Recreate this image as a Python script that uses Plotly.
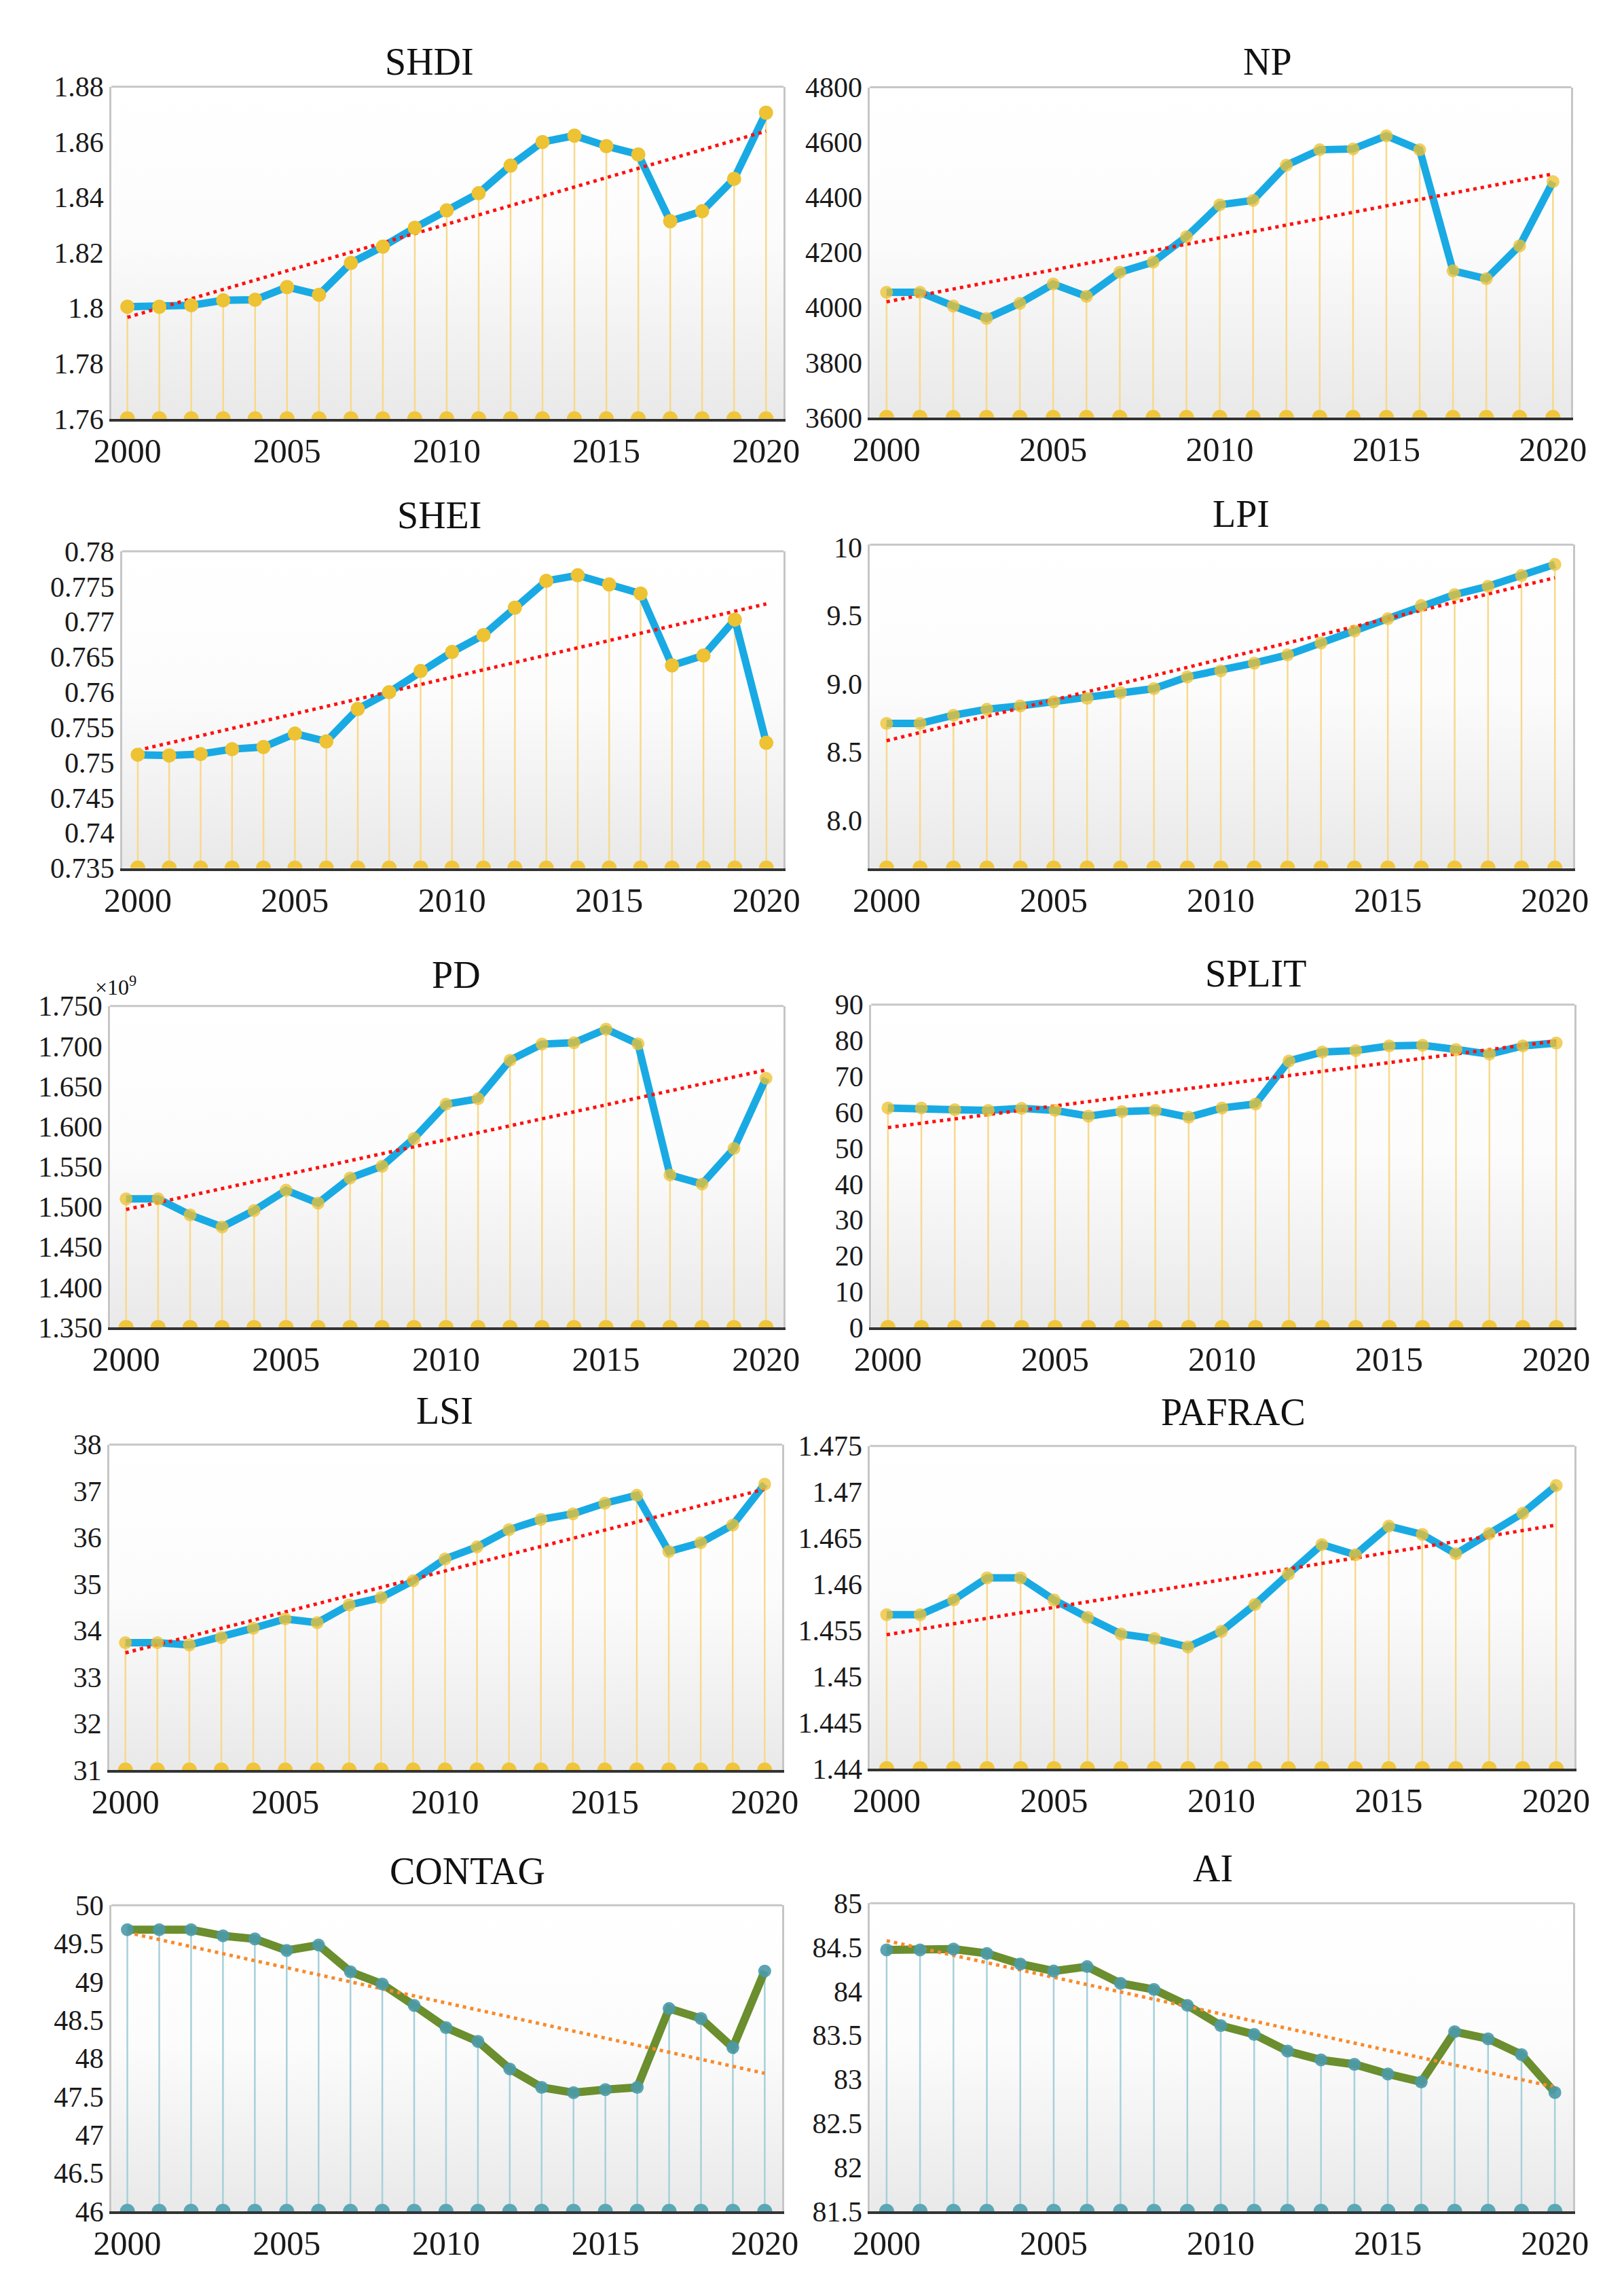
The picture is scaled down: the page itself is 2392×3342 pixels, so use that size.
import numpy as np
import plotly.graph_objects as go

# ---------------- data ----------------
years = list(range(2000, 2021))

shdi = [1.8005, 1.8005, 1.8010, 1.8028, 1.8030, 1.8076, 1.8048, 1.8163, 1.8222, 1.8290, 1.8353,
        1.8415, 1.8515, 1.8600, 1.8623, 1.8585, 1.8555, 1.8314, 1.8350, 1.8467, 1.8706]
np_vals = [4055, 4055, 4005, 3960, 4015, 4085, 4040, 4128, 4165, 4257, 4373,
           4389, 4517, 4573, 4576, 4624, 4573, 4133, 4104, 4224, 4457]
shei = [0.7511, 0.7510, 0.7512, 0.7519, 0.7522, 0.7541, 0.7530, 0.7576, 0.7600, 0.7630, 0.7657,
        0.7681, 0.7720, 0.7758, 0.7766, 0.7753, 0.7740, 0.7638, 0.7652, 0.7703, 0.7528]
lpi = [8.710, 8.710, 8.770, 8.814, 8.838, 8.868, 8.894, 8.935, 8.965, 9.051, 9.095,
       9.152, 9.212, 9.300, 9.387, 9.477, 9.574, 9.654, 9.715, 9.795, 9.875]
pd_vals = [1.510, 1.510, 1.490, 1.475, 1.4955, 1.5207, 1.5047, 1.536, 1.5506, 1.5853, 1.6278,
           1.6346, 1.6825, 1.7026, 1.7043, 1.7213, 1.7029, 1.5397, 1.5285, 1.5727, 1.6601]
split = [61.2, 61.2, 60.7, 60.5, 61.1, 60.5, 58.9, 60.2, 60.5, 58.6, 61.2,
         62.3, 74.3, 76.8, 77.2, 78.5, 78.7, 77.5, 76.2, 78.5, 79.3]
lsi = [33.74, 33.74, 33.69, 33.85, 34.05, 34.25, 34.17, 34.55, 34.71, 35.07, 35.54,
       35.80, 36.17, 36.39, 36.51, 36.74, 36.91, 35.70, 35.89, 36.27, 37.15]
pafrac = [1.4567, 1.4567, 1.4583, 1.4607, 1.4607, 1.4583, 1.4564, 1.4546, 1.4541, 1.4532, 1.4549,
          1.4578, 1.4611, 1.4643, 1.4632, 1.4663, 1.4654, 1.4633, 1.4655, 1.4677, 1.4707]
contag = [49.68, 49.68, 49.68, 49.60, 49.56, 49.41, 49.48, 49.13, 48.97, 48.69, 48.40,
          48.22, 47.86, 47.62, 47.55, 47.59, 47.62, 48.65, 48.52, 48.14, 49.14]
ai = [84.47, 84.47, 84.48, 84.43, 84.31, 84.23, 84.28, 84.09, 84.02, 83.84, 83.61,
      83.51, 83.32, 83.22, 83.17, 83.06, 82.97, 83.54, 83.46, 83.28, 82.85]

names = ["SHDI", "NP", "SHEI", "LPI", "PD", "SPLIT", "LSI", "PAFRAC", "CONTAG", "AI"]
series = [shdi, np_vals, shei, lpi, pd_vals, split, lsi, pafrac, contag, ai]
y_ranges = [(1.76, 1.88), (3600, 4800), (0.735, 0.78), (7.65, 10.02), (1.35, 1.75),
            (0, 90), (31, 38), (1.44, 1.475), (46, 50), (81.5, 85)]
y_steps = [0.02, 200, 0.005, 0.5, 0.05, 10, 1, 0.005, 0.5, 0.5]
x_ticks = [2000, 2005, 2010, 2015, 2020]
lpi_tickvals = [8.0, 8.5, 9.0, 9.5, 10.0]
lpi_ticktext = ["8.0", "8.5", "9.0", "9.5", "10"]

# ---------------- layout (pixels in the 2392x3342 canvas) ----------------
W, H = 2392, 3342
boxes = [(132, 1144, 99, 595), (1274, 2330, 100, 593),
         (148, 1144, 793, 1266), (1274, 2333, 783, 1266),
         (130, 1144, 1472, 1952), (1276, 2335, 1470, 1952),
         (129, 1142, 2127, 2613), (1274, 2335, 2129, 2611),
         (132, 1142, 2815, 3272), (1274, 2333, 2812, 3272)]
title_pos = [(611, 62), (1873, 62), (626, 739), (1833, 737), (651, 1426),
             (1855, 1424), (634, 2077), (1821, 2079), (668, 2764), (1790, 2760)]

SERIF = "Liberation Serif, Times New Roman, serif"
blue_style = dict(line="#19AAE4", marker="#EDC233", base="#F0C53A", drop="#F8D98C", trend="#FF1010", lw=11)
green_style = dict(line="#6B8E2E", marker="#4A9AAA", base="#5BA7B6", drop="#A6D0DA", trend="#F98A2B", lw=12)

fig = go.Figure()
layout = dict(width=W, height=H, margin=dict(l=0, r=0, t=0, b=0),
              paper_bgcolor="white", plot_bgcolor="rgba(0,0,0,0)", showlegend=False)
shapes, annotations = [], []
XR = (1999.5, 2020.55)

for i, (name, vals) in enumerate(zip(names, series)):
    k = i + 1
    xa, ya = ("x" if k == 1 else f"x{k}"), ("y" if k == 1 else f"y{k}")
    xkey, ykey = ("xaxis" if k == 1 else f"xaxis{k}"), ("yaxis" if k == 1 else f"yaxis{k}")
    st = green_style if i >= 8 else blue_style
    y0, y1 = y_ranges[i]
    x0p, x1p, t0p, b0p = boxes[i]

    # gradient background of plot area
    fig.add_trace(go.Scatter(x=[XR[0], XR[1], XR[1], XR[0], XR[0]], y=[y0, y0, y1, y1, y0],
                             mode="lines", fill="toself", line=dict(width=0),
                             fillgradient=dict(type="vertical",
                                               colorscale=[[0, "#E9E9E9"], [0.55, "#FCFCFC"], [1, "#FFFFFF"]]),
                             hoverinfo="skip", xaxis=xa, yaxis=ya))
    # drop lines
    dx, dy = [], []
    for yr, v in zip(years, vals):
        dx += [yr, yr, None]
        dy += [v, y0, None]
    fig.add_trace(go.Scatter(x=dx, y=dy, mode="lines", line=dict(color=st["drop"], width=2.5),
                             hoverinfo="skip", xaxis=xa, yaxis=ya))
    # base markers on the axis
    fig.add_trace(go.Scatter(x=years, y=[y0] * len(years), mode="markers",
                             marker=dict(color=st["base"], size=22), hoverinfo="skip",
                             xaxis=xa, yaxis=ya))
    # main line
    fig.add_trace(go.Scatter(x=years, y=vals, mode="lines", line=dict(color=st["line"], width=st["lw"]),
                             xaxis=xa, yaxis=ya))
    # linear trend
    p = np.polyfit(years, vals, 1)
    tx = [years[0], years[-1]]
    fig.add_trace(go.Scatter(x=tx, y=list(np.polyval(p, tx)), mode="lines",
                             line=dict(color=st["trend"], width=5, dash="5px,6px"),
                             hoverinfo="skip", xaxis=xa, yaxis=ya))
    # point markers
    mop = 1.0 if name in ("SHDI", "SHEI") else (0.9 if i >= 8 else 0.78)
    msize = 21 if name in ("SHDI", "SHEI") else 19
    fig.add_trace(go.Scatter(x=years, y=vals, mode="markers",
                             marker=dict(color=st["marker"], size=msize, opacity=mop),
                             xaxis=xa, yaxis=ya))

    # axes
    if name == "LPI":
        tv, tt = lpi_tickvals, lpi_ticktext
    else:
        n = int(round((y1 - y0) / y_steps[i]))
        tv = [round(y0 + j * y_steps[i], 6) for j in range(n + 1)]
        tt = [f"{v:.3f}" for v in tv] if name == "PD" else [f"{v:g}" for v in tv]

    layout[xkey] = dict(domain=[x0p / W, x1p / W], anchor=ya, range=list(XR),
                        tickvals=x_ticks, ticktext=[str(t) for t in x_ticks],
                        showgrid=False, zeroline=False, ticks="",
                        showline=True, linecolor="#333333", linewidth=4,
                        tickfont=dict(family=SERIF, size=50, color="#1A1A1A"))
    layout[ykey] = dict(domain=[1 - b0p / H, 1 - t0p / H], anchor=xa, range=[y0, y1],
                        tickvals=tv, ticktext=tt, showgrid=False, zeroline=False, ticks="",
                        showline=True, mirror=True, linecolor="#C6C6C6", linewidth=3,
                        tickfont=dict(family=SERIF, size=42, color="#1A1A1A"))
    shapes.append(dict(type="line", xref=f"{xa} domain", yref=f"{ya} domain",
                       x0=0, x1=1, y0=1, y1=1, line=dict(color="#C6C6C6", width=3)))
    tx_, ty_ = title_pos[i]
    annotations.append(dict(text=name, x=tx_ / W, y=1 - ty_ / H, xref="paper", yref="paper",
                            xanchor="center", yanchor="middle", showarrow=False,
                            font=dict(family=SERIF, size=56, color="#111111")))

annotations.append(dict(text="×10<sup>9</sup>", x=139 / W, y=1 - 1442 / H, xref="paper", yref="paper",
                        xanchor="center", yanchor="middle", showarrow=False,
                        font=dict(family=SERIF, size=32, color="#111111")))

layout["shapes"] = shapes
layout["annotations"] = annotations
fig.update_layout(**layout)
fig.write_html("out.html")
